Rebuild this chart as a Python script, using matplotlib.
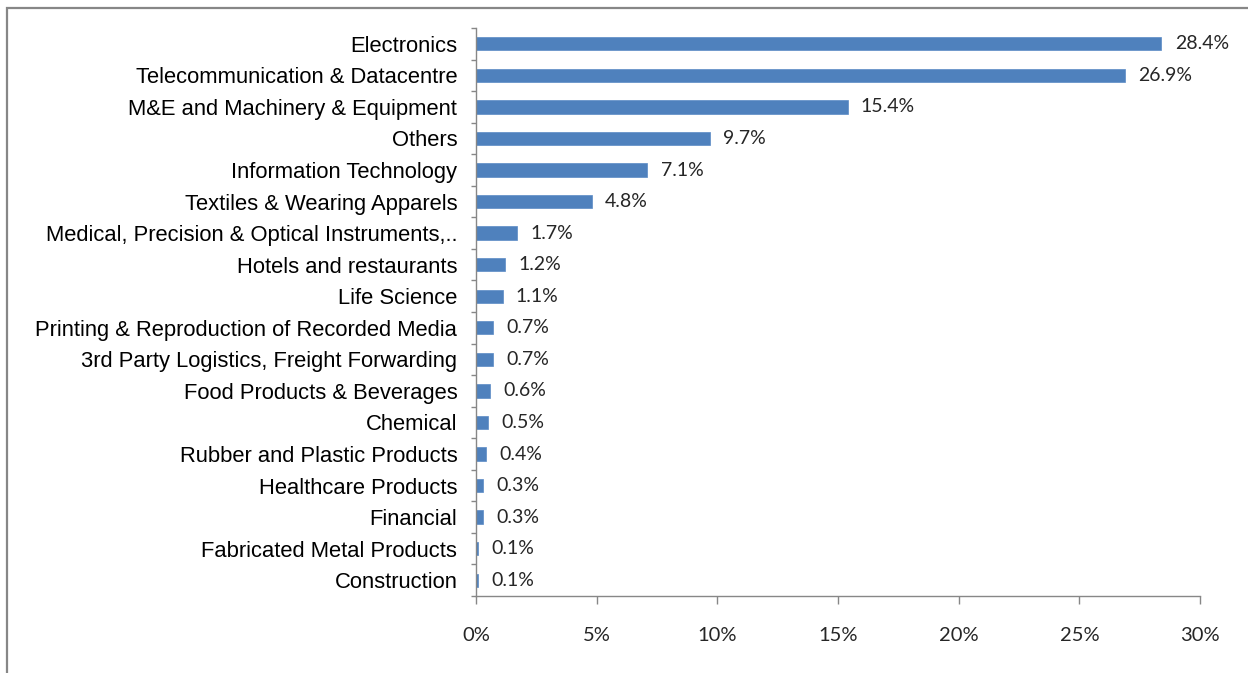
import matplotlib.pyplot as plt
from matplotlib.patches import Rectangle
from matplotlib.ticker import FuncFormatter

sectors = ['Electronics', 'Telecommunication & Datacentre', 'M&E and Machinery & Equipment',
           'Others', 'Information Technology', 'Textiles & Wearing Apparels',
           'Medical, Precision & Optical Instruments,..', 'Hotels and restaurants',
           'Life Science', 'Printing & Reproduction of Recorded Media',
           '3rd Party Logistics, Freight Forwarding', 'Food Products & Beverages',
           'Chemical', 'Rubber and Plastic Products', 'Healthcare Products',
           'Financial', 'Fabricated Metal Products', 'Construction']
share = [28.4, 26.9, 15.4, 9.7, 7.1, 4.8, 1.7, 1.2, 1.1, 0.7, 0.7, 0.6, 0.5, 0.4, 0.3, 0.3, 0.1, 0.1]

fig = plt.figure(figsize=(12.48, 6.73), dpi=100)
ax = fig.add_axes([476/1248, 1-596/673, (1200-476)/1248, (596-28)/673])

# outer chart frame
fig.patches.append(Rectangle((7/1248, -0.05), 1.1, 1-8/673+0.05, transform=fig.transFigure,
                             fill=False, edgecolor='#878787', linewidth=1.6))

pos = list(range(len(sectors)))[::-1]
ax.barh(pos, share, height=0.42, color='#4F81BD', edgecolor='#5a8ac6', linewidth=0.5)

for p, v in zip(pos, share):
    ax.text(v + 0.55, p, f'{v:.1f}%', va='center', ha='left', fontsize=14,
            family='Lato', color='#262626')

ax.set_xlim(0, 30)
ax.set_ylim(-0.5, len(sectors) - 0.5)
ax.set_xticks(range(0, 31, 5))
ax.xaxis.set_major_formatter(FuncFormatter(lambda x, _: f'{x:.0f}%'))
for lbl in ax.get_xticklabels():
    lbl.set_family('Lato')
    lbl.set_fontsize(14.5)
    lbl.set_color('#262626')

# category labels centred on bars, ticks between categories
ax.set_yticks(pos)
ax.set_yticklabels(sectors, fontsize=15.8, family='Liberation Sans')
ax.tick_params(axis='y', length=0, pad=13.5)
ax.set_yticks([i + 0.5 for i in range(-1, len(sectors))], minor=True)
ax.tick_params(axis='y', which='minor', length=3.6, color='#878787', width=1)
ax.tick_params(axis='x', length=6, color='#878787', width=1, pad=16)

for s in ['top', 'right']:
    ax.spines[s].set_visible(False)
for s in ['left', 'bottom']:
    ax.spines[s].set_color('#878787')
    ax.spines[s].set_linewidth(1)

fig.savefig('out.png', dpi=100)
